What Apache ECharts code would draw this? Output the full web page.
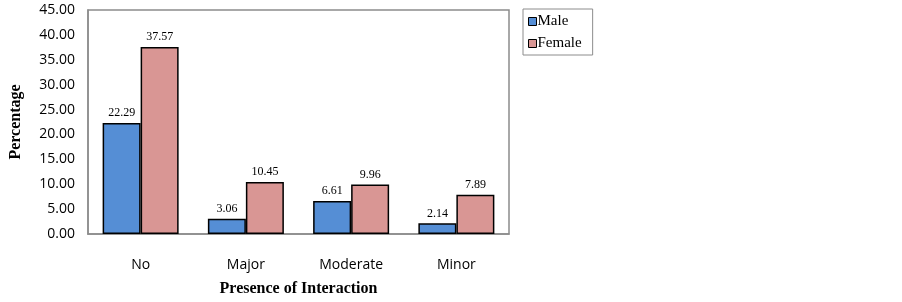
<!DOCTYPE html>
<html>
<head>
<meta charset="utf-8"/>
<title>Presence of Interaction</title>
<script src="https://cdn.jsdelivr.net/npm/echarts@6/dist/echarts.min.js"></script>
<style>
  html, body { margin: 0; padding: 0; background: #fff; }
  #main { width: 902px; height: 302px; }
</style>
</head>
<body>
<div id="main"></div>
<script>
var categories = ['No', 'Major', 'Moderate', 'Minor']
var maleValues = [22.29, 3.06, 6.61, 2.14]
var femaleValues = [37.57, 10.45, 9.96, 7.89]

var chart = echarts.init(document.getElementById('main'), null, { renderer: 'canvas' })

var labelStyle = {
    show: true,
    position: 'top',
    distance: 4,
    fontFamily: '"Liberation Serif", "Times New Roman", serif',
    fontSize: 12,
    color: '#000',
    formatter: function (p) { return p.value.toFixed(2) }
}

chart.setOption({
    animation: false,
    grid: {
        left: 88, right: 393, top: 10, bottom: 58,
        show: true, borderColor: '#8c8c8c', borderWidth: 1.5
    },
    legend: {
        left: 523, top: 9,
        orient: 'vertical',
        icon: 'rect',
        itemWidth: 8, itemHeight: 8, itemGap: 7,
        padding: [5, 11, 4, 5],
        borderColor: '#8c8c8c', borderWidth: 1,
        itemStyle: { borderColor: '#000', borderWidth: 1 },
        textStyle: { fontFamily: '"Liberation Serif", "Times New Roman", serif', fontSize: 15, color: '#000', padding: [0, 0, 0, -4] },
        data: ['Male', 'Female']
    },
    xAxis: {
        type: 'category',
        data: categories,
        name: 'Presence of Interaction',
        nameLocation: 'middle',
        nameGap: 47,
        nameTextStyle: { fontFamily: '"Liberation Serif", "Times New Roman", serif', fontWeight: 'bold', fontSize: 16, color: '#000' },
        axisLine: { lineStyle: { color: '#8c8c8c', width: 1.5 } },
        axisTick: { show: false },
        axisLabel: { fontFamily: '"Open Sans", "DejaVu Sans", sans-serif', fontSize: 14, color: '#000', margin: 24 }
    },
    yAxis: {
        type: 'value',
        min: 0, max: 45, interval: 5,
        name: 'Percentage',
        nameLocation: 'middle',
        nameGap: 64,
        nameTextStyle: { fontFamily: '"Liberation Serif", "Times New Roman", serif', fontWeight: 'bold', fontSize: 16, color: '#000' },
        axisLine: { show: true, lineStyle: { color: '#8c8c8c', width: 1.5 } },
        axisTick: { show: false },
        splitLine: { show: false },
        axisLabel: {
            fontFamily: '"Open Sans", "DejaVu Sans", sans-serif', fontSize: 14, color: '#000', margin: 13,
            formatter: function (v) { return v.toFixed(2) }
        }
    },
    series: [
        {
            name: 'Male', type: 'bar', data: maleValues,
            barWidth: 38, barGap: '0%',
            itemStyle: { color: '#558ed5', borderColor: '#000', borderWidth: 1.5 },
            label: labelStyle
        },
        {
            name: 'Female', type: 'bar', data: femaleValues,
            barWidth: 38, barGap: '0%',
            itemStyle: { color: '#d99694', borderColor: '#000', borderWidth: 1.5 },
            label: labelStyle
        }
    ]
})
</script>
</body>
</html>
